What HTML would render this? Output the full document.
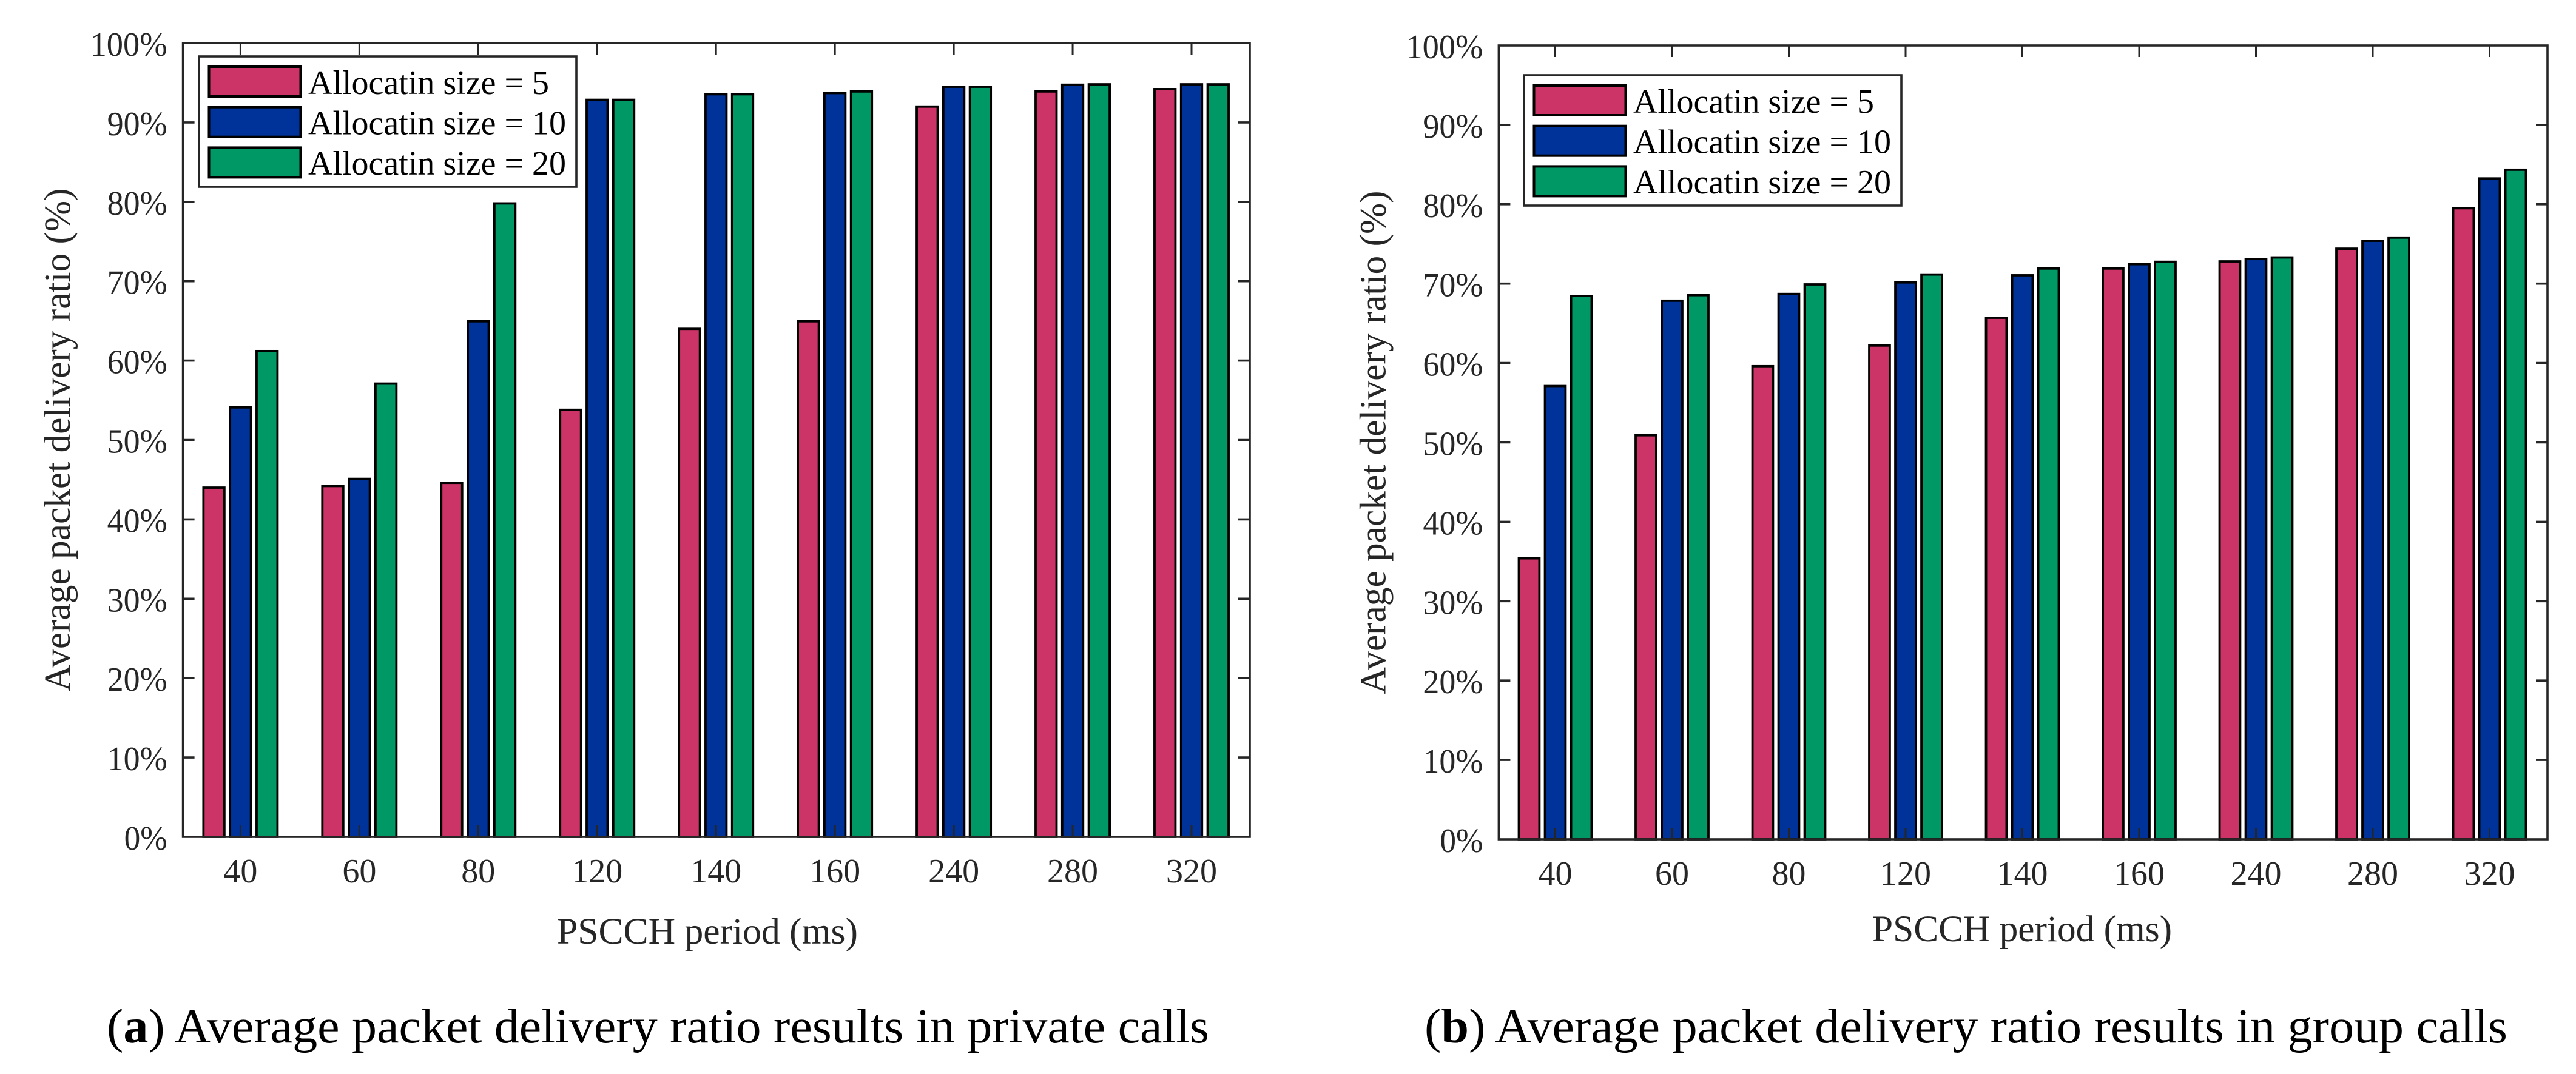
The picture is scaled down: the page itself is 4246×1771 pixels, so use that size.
<!DOCTYPE html>
<html lang="en">
<head>
<meta charset="utf-8">
<title>Average packet delivery ratio</title>
<style>
html,body{margin:0;padding:0;background:#fff;width:4246px;height:1771px;overflow:hidden}
svg{display:block;position:absolute;left:0;top:0}
text{font-family:"Liberation Serif","Times New Roman",serif}
</style>
</head>
<body>
<svg id="figure" xmlns="http://www.w3.org/2000/svg" width="4246" height="1771" viewBox="0 0 4246 1771">
  <g id="chart-a"></g>
  <g id="chart-b"></g>
  <text x="176" y="1719" font-size="80.5" fill="#000" textLength="1817" lengthAdjust="spacingAndGlyphs">(<tspan font-weight="bold">a</tspan>) Average packet delivery ratio results in private calls</text>
  <text x="2348" y="1719" font-size="80.5" fill="#000" textLength="1785" lengthAdjust="spacingAndGlyphs">(<tspan font-weight="bold">b</tspan>) Average packet delivery ratio results in group calls</text>
</svg>
<script>
const categories = ['40','60','80','120','140','160','240','280','320'];
const yTickValues = [0,10,20,30,40,50,60,70,80,90,100];
const seriesLabels = ['Allocatin size = 5','Allocatin size = 10','Allocatin size = 20'];
const seriesColors = ['#CC3366','#003399','#009966'];

const privateSize5  = [44.0,44.2,44.6,53.8,64.0,64.95,92.0,93.9,94.2];
const privateSize10 = [54.1,45.1,64.95,92.85,93.55,93.7,94.5,94.75,94.8];
const privateSize20 = [61.2,57.1,79.8,92.85,93.55,93.9,94.5,94.8,94.8];

const groupSize5  = [35.4,50.9,59.6,62.2,65.7,71.9,72.8,74.4,79.5];
const groupSize10 = [57.1,67.85,68.7,70.15,71.05,72.45,73.1,75.4,83.25];
const groupSize20 = [68.45,68.55,69.9,71.15,71.9,72.75,73.3,75.8,84.35];

const NS = 'http://www.w3.org/2000/svg';
const AXIS = '#262626';

function make(tag, attrs, parent, content) {
  const el = document.createElementNS(NS, tag);
  for (const k in attrs) el.setAttribute(k, attrs[k]);
  if (content !== undefined) el.textContent = content;
  parent.appendChild(el);
  return el;
}

function drawChart(root, cfg, series) {
  const step = (cfg.lastTick - cfg.firstTick) / (categories.length - 1);
  const xScale = i => cfg.firstTick + i * step;
  const yScale = v => cfg.bottom - (v / 100) * (cfg.bottom - cfg.top);
  const barOffset = step * 0.2235;
  const barWidth = step * 0.176;

  series.forEach((values, s) => {
    values.forEach((v, i) => {
      const cx = xScale(i) + (s - 1) * barOffset;
      const bar = make('rect', {
        x: cx - barWidth / 2, y: yScale(v), width: barWidth, height: yScale(0) - yScale(v),
        fill: seriesColors[s], stroke: '#000', 'stroke-width': 3.8
      }, root);
      
      
    });
  });

  const box = make('rect', {
    x: cfg.left, y: cfg.top, width: cfg.right - cfg.left, height: cfg.bottom - cfg.top,
    fill: 'none', stroke: AXIS, 'stroke-width': 3.6
  }, root);
  
  

  categories.forEach((c, i) => {
    const x = xScale(i);
    const tickBottom = make('line', {x1: x, x2: x, y1: cfg.bottom, y2: cfg.bottom - 19, stroke: AXIS, 'stroke-width': 3}, root);
    
    
    const tickTop = make('line', {x1: x, x2: x, y1: cfg.top, y2: cfg.top + 19, stroke: AXIS, 'stroke-width': 3}, root);
    
    
    const label = make('text', {x: x, y: cfg.bottom + 75, 'font-size': 56, 'text-anchor': 'middle', fill: AXIS}, root, c);
    
    
  });

  yTickValues.forEach(v => {
    const y = yScale(v);
    if (v > 0 && v < 100) {
      const tickLeft = make('line', {x1: cfg.left, x2: cfg.left + 19, y1: y, y2: y, stroke: AXIS, 'stroke-width': 3.6}, root);
      
      
      const tickRight = make('line', {x1: cfg.right, x2: cfg.right - 19, y1: y, y2: y, stroke: AXIS, 'stroke-width': 3.6}, root);
      
      
    }
    const label = make('text', {x: cfg.left - 26, y: y + 21, 'font-size': 56, 'text-anchor': 'end', fill: AXIS, textLength: (String(v).length * 28 + 43), lengthAdjust: 'spacingAndGlyphs'}, root, v + '%');
    
    
  });

  const xTitle = make('text', {x: cfg.xTitleX, y: cfg.xTitleY, 'font-size': 61, fill: AXIS, textLength: cfg.xTitleW, lengthAdjust: 'spacingAndGlyphs'}, root, 'PSCCH period (ms)');
  
  

  const yTitle = make('text', {
    transform: 'translate(' + cfg.yTitleX + ',' + cfg.yTitleBottom + ') rotate(-90)',
    x: 0, y: 0, 'font-size': 61, fill: AXIS, textLength: 830, lengthAdjust: 'spacingAndGlyphs'
  }, root, 'Average packet delivery ratio (%)');
  
  

  const legend = make('g', {}, root);
  
  
  const legendBox = make('rect', {x: cfg.legendX, y: cfg.legendY, width: 622, height: 215, fill: '#fff', stroke: AXIS, 'stroke-width': 3.6}, legend);
  
  
  seriesLabels.forEach((t, s) => {
    const top = cfg.legendY + 17 + s * 66.7;
    const swatch = make('rect', {x: cfg.legendX + 16.5, y: top, width: 151, height: 49, fill: seriesColors[s], stroke: '#000', 'stroke-width': 4}, legend);
    
    
    const text = make('text', {x: cfg.legendX + 180, y: cfg.legendY + 62 + s * 66.6, 'font-size': 56, fill: '#000'}, legend, t);
    
    
  });
}

drawChart(document.getElementById('chart-a'), {
  left: 301.6, right: 2060, top: 71, bottom: 1380, firstTick: 396.4, lastTick: 1964,
  xTitleX: 918, xTitleY: 1556, xTitleW: 496, yTitleX: 115, yTitleBottom: 1140.5,
  legendX: 328, legendY: 93
}, [privateSize5, privateSize10, privateSize20]);

drawChart(document.getElementById('chart-b'), {
  left: 2470.4, right: 4199, top: 75, bottom: 1384, firstTick: 2563.5, lastTick: 4103.5,
  xTitleX: 3086, xTitleY: 1552, xTitleW: 494, yTitleX: 2283.4, yTitleBottom: 1144.5,
  legendX: 2512, legendY: 124
}, [groupSize5, groupSize10, groupSize20]);
</script>
</body>
</html>
